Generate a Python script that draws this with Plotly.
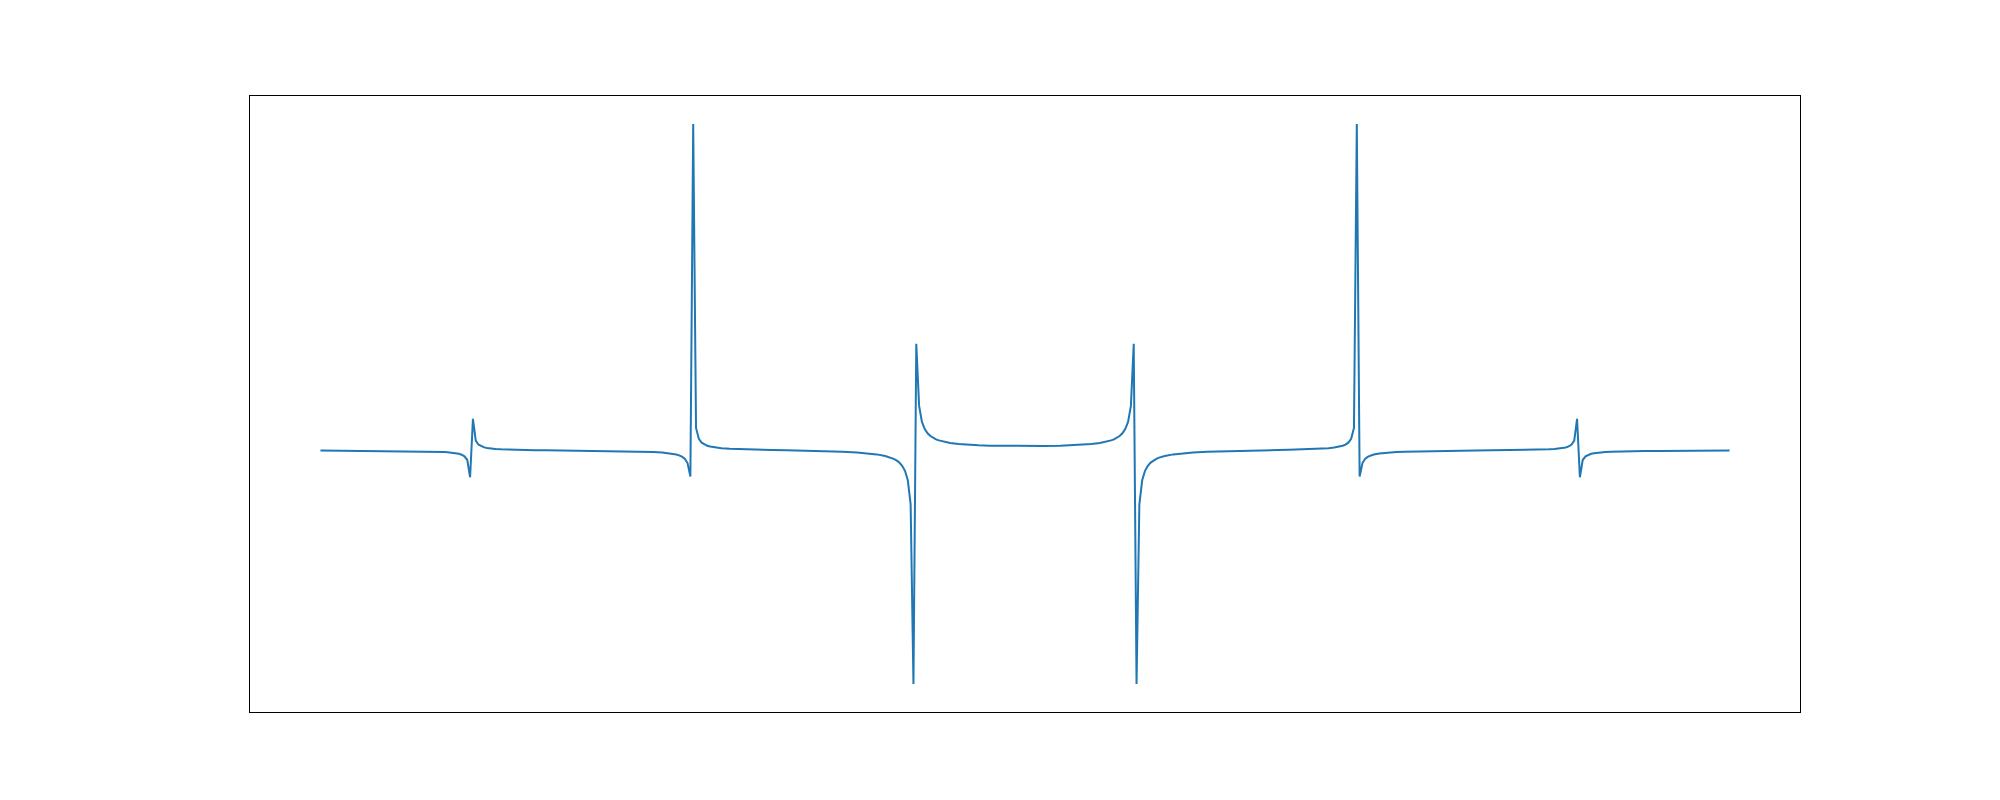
import plotly.graph_objects as go

# sample positions (x) and values (y), left half (x < 0)
x_left = [
    -10.0, -9.7996, -9.5992, -9.3988, -9.1984, -8.9980, -8.7976, -8.5972, -8.3968, -8.3166,
    -8.2365, -8.1964, -8.1563, -8.1162, -8.0762, -8.0361, -7.9960, -7.9559, -7.9158, -7.8758,
    -7.8357, -7.7956, -7.7555, -7.7154, -7.6754, -7.6353, -7.5952, -7.5150, -7.4349, -7.3547,
    -7.2345, -7.1142, -6.9539, -6.7936, -6.5932, -6.3928, -6.1924, -5.9920, -5.7916, -5.5912,
    -5.5110, -5.3908, -5.2705, -5.1503, -5.0301, -4.9499, -4.9098, -4.8697, -4.8297, -4.7896,
    -4.7495, -4.7094, -4.6693, -4.6293, -4.5892, -4.5491, -4.5090, -4.4689, -4.3888, -4.3086,
    -4.1884, -4.0681, -3.9078, -3.7475, -3.5872, -3.3868, -3.1864, -2.9860, -2.7856, -2.5852,
    -2.3848, -2.2244, -2.1042, -1.9840, -1.9038, -1.8637, -1.8236, -1.7836, -1.7435, -1.7034,
    -1.6633, -1.6232, -1.5832, -1.5431, -1.5030, -1.4629, -1.4228, -1.3828, -1.3427, -1.3026,
    -1.2625, -1.2224, -1.1423, -1.0621, -0.9419, -0.8216, -0.6613, -0.5010, -0.2605, -0.0200,
]
y_left = [
    0.065, 0.040, 0.018, -0.003, -0.025, -0.051, -0.082, -0.126, -0.198, -0.241,
    -0.302, -0.342, -0.393, -0.459, -0.548, -0.676, -0.875, -1.229, -2.042, -5.823,
    6.973, 2.194, 1.305, 0.929, 0.722, 0.589, 0.497, 0.377, 0.302, 0.249,
    0.194, 0.154, 0.114, 0.083, 0.049, 0.017, -0.015, -0.050, -0.093, -0.148,
    -0.177, -0.229, -0.304, -0.415, -0.604, -0.835, -1.018, -1.294, -1.757, -2.699,
    -5.671, 71.50, 4.972, 2.593, 1.760, 1.334, 1.075, 0.901, 0.679, 0.543,
    0.413, 0.327, 0.246, 0.185, 0.133, 0.074, 0.014, -0.053, -0.134, -0.241,
    -0.396, -0.588, -0.805, -1.149, -1.519, -1.779, -2.122, -2.595, -3.288, -4.401,
    -6.479, -11.735, -51.06, 23.38, 9.800, 6.312, 4.716, 3.801, 3.208, 2.794,
    2.488, 2.253, 1.916, 1.687, 1.460, 1.309, 1.177, 1.093, 1.023, 1.000,
]

# right half (x > 0)
x_right = [
    0.0200, 0.2605, 0.5010, 0.6613, 0.8216, 0.9419, 1.0621, 1.1423, 1.2224, 1.2625,
    1.3026, 1.3427, 1.3828, 1.4228, 1.4629, 1.5030, 1.5431, 1.5832, 1.6232, 1.6633,
    1.7034, 1.7435, 1.7836, 1.8236, 1.8637, 1.9038, 1.9840, 2.1042, 2.2244, 2.3848,
    2.5852, 2.7856, 2.9860, 3.1864, 3.3868, 3.5872, 3.7475, 3.9078, 4.0681, 4.1884,
    4.3086, 4.3888, 4.4689, 4.5090, 4.5491, 4.5892, 4.6293, 4.6693, 4.7094, 4.7495,
    4.7896, 4.8297, 4.8697, 4.9098, 4.9499, 5.0301, 5.1503, 5.2705, 5.3908, 5.5110,
    5.5912, 5.7916, 5.9920, 6.1924, 6.3928, 6.5932, 6.7936, 6.9539, 7.1142, 7.2345,
    7.3547, 7.4349, 7.5150, 7.5952, 7.6353, 7.6754, 7.7154, 7.7555, 7.7956, 7.8357,
    7.8758, 7.9158, 7.9559, 7.9960, 8.0361, 8.0762, 8.1162, 8.1563, 8.1964, 8.2365,
    8.3166, 8.3968, 8.5972, 8.7976, 8.9980, 9.1984, 9.3988, 9.5992, 9.7996, 10.0,
]
y_right = [
    1.000, 1.023, 1.093, 1.177, 1.309, 1.460, 1.687, 1.916, 2.253, 2.488,
    2.794, 3.208, 3.801, 4.716, 6.312, 9.800, 23.38, -51.06, -11.735, -6.479,
    -4.401, -3.288, -2.595, -2.122, -1.779, -1.519, -1.149, -0.805, -0.588, -0.396,
    -0.241, -0.134, -0.053, 0.014, 0.074, 0.133, 0.185, 0.246, 0.327, 0.413,
    0.543, 0.679, 0.901, 1.075, 1.334, 1.760, 2.593, 4.972, 71.50, -5.671,
    -2.699, -1.757, -1.294, -1.018, -0.835, -0.604, -0.415, -0.304, -0.229, -0.177,
    -0.148, -0.093, -0.050, -0.015, 0.017, 0.049, 0.083, 0.114, 0.154, 0.194,
    0.249, 0.302, 0.377, 0.497, 0.589, 0.722, 0.929, 1.305, 2.194, 6.973,
    -5.823, -2.042, -1.229, -0.875, -0.676, -0.548, -0.459, -0.393, -0.342, -0.302,
    -0.241, -0.198, -0.126, -0.082, -0.051, -0.025, -0.003, 0.018, 0.040, 0.065,
]

x_vals = x_left + x_right
y_vals = y_left + y_right

fig = go.Figure()
fig.add_trace(go.Scatter(
    x=x_vals, y=y_vals, mode="lines",
    line=dict(color="#1f77b4", width=2),
    hoverinfo="skip", showlegend=False,
))

xmin, xmax = min(x_vals), max(x_vals)
ymin, ymax = min(y_vals), max(y_vals)
xpad = (xmax - xmin) * 0.05
ypad = (ymax - ymin) * 0.05

axis_common = dict(
    showgrid=False, zeroline=False, showticklabels=False, ticks="",
    showline=True, mirror=True, linecolor="black", linewidth=1,
)
fig.update_layout(
    width=2000, height=800,
    margin=dict(l=250, r=200, t=96, b=88),
    paper_bgcolor="white", plot_bgcolor="white",
    xaxis=dict(range=[xmin - xpad, xmax + xpad], **axis_common),
    yaxis=dict(range=[ymin - ypad, ymax + ypad], **axis_common),
)
fig.write_html("out.html")
